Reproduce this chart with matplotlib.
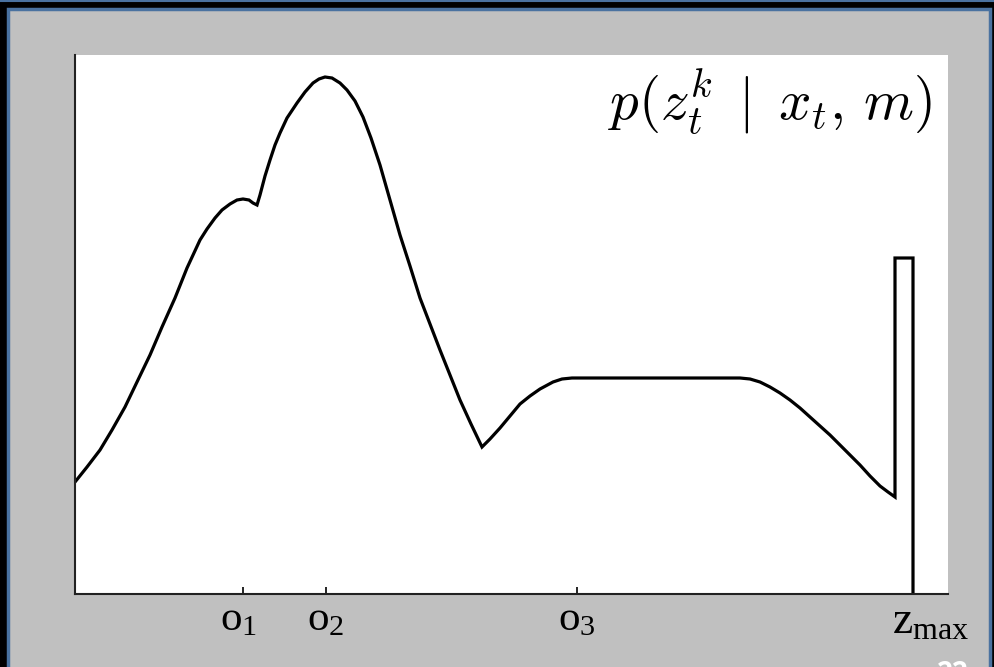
import numpy as np
import matplotlib
matplotlib.use("Agg")
import matplotlib.pyplot as plt
import matplotlib.transforms as mtransforms
from matplotlib.patches import Rectangle
from matplotlib.lines import Line2D

# curve (x: range units, y: density units)
curve_x = [0, 12, 25, 37, 50, 62, 75, 87, 100, 112, 125, 132, 140, 147, 155,
           162, 168, 174, 178, 182,
           185, 190, 195, 200, 205, 212, 222, 230, 238, 244, 250, 257, 265,
           272, 280, 288, 296, 305, 315, 325, 335, 345, 355, 365, 375, 385,
           396, 407,
           415, 425, 435, 445, 455, 465, 478, 487, 497,
           665, 675, 685, 695, 705, 715, 725, 735, 745, 755, 765, 775, 785,
           795, 805, 813, 820]
curve_y = [112, 127, 144, 164, 187, 212, 239, 267, 296, 326, 354, 365, 376,
           384, 390, 394, 395, 394, 391, 389,
           399, 418, 434, 449, 461, 476, 491, 502, 511, 515, 517, 516, 511,
           504, 493, 477, 456, 429, 394, 359, 328, 296, 270, 244, 219, 194,
           170, 147,
           155, 166, 178, 190, 198, 205, 212, 215, 216,
           216, 215, 212, 207, 201, 194, 186, 177, 168, 159, 149, 139, 129,
           118, 108, 102, 97]

# max-range spike
spike_x = [820, 820, 838, 838]
spike_y = [97, 336, 336, 0]

tick_pos = [168, 251, 502, 838]
tick_lab = [r'$\mathregular{o_1}$', r'$\mathregular{o_2}$',
            r'$\mathregular{o_3}$', r'$\mathregular{z_{max}}$']

fig = plt.figure(figsize=(9.94, 6.67), dpi=100, facecolor='black')

# slide background
blue = '#4a72a0'
fig.patches.append(Rectangle((8/994, -0.01), 982/994, (658/667) + 0.01,
                             transform=fig.transFigure, facecolor='#c0c0c0',
                             edgecolor=blue, linewidth=2.5, zorder=-10))
fig.lines.append(Line2D([0, 1], [0.999, 0.999], transform=fig.transFigure,
                        color=blue, linewidth=1.5, zorder=-10))

ax = fig.add_axes([75/994, 73/667, 873/994, 539/667])
ax.set_zorder(5)
ax.set_facecolor('white')

ax.plot(curve_x + spike_x, curve_y + spike_y, color='black', lw=2.3,
        solid_joinstyle='miter')

ax.set_xlim(0, 873)
ax.set_ylim(0, 539)
ax.spines['top'].set_visible(False)
ax.spines['right'].set_visible(False)
for s in ['left', 'bottom']:
    ax.spines[s].set_color('#222222')
    ax.spines[s].set_linewidth(1.5)
ax.set_yticks([])
ax.set_xticks(tick_pos)
ax.set_xticklabels(tick_lab, fontfamily='Liberation Serif', fontsize=31)
ax.tick_params(axis='x', direction='in', length=5, width=1.2, pad=5)
labs = ax.get_xticklabels()
labs[0].set_transform(labs[0].get_transform() +
                      mtransforms.ScaledTranslation(-0.04, 0, fig.dpi_scale_trans))
labs[3].set_fontsize(33)
labs[3].set_transform(labs[3].get_transform() +
                      mtransforms.ScaledTranslation(0.18, 0, fig.dpi_scale_trans))

ax.text(0.9817, 0.881, r'$p(z_t^k\;\mid\;x_t,\,m)$', transform=ax.transAxes,
        ha='right', va='baseline', fontsize=41, math_fontfamily='cm')

fig.text(937/994, 7/667, '22', color='white', fontsize=20,
         fontweight='bold', ha='left', va='top', fontfamily='Open Sans')

fig.savefig('out.png', dpi=100, facecolor=fig.get_facecolor())
